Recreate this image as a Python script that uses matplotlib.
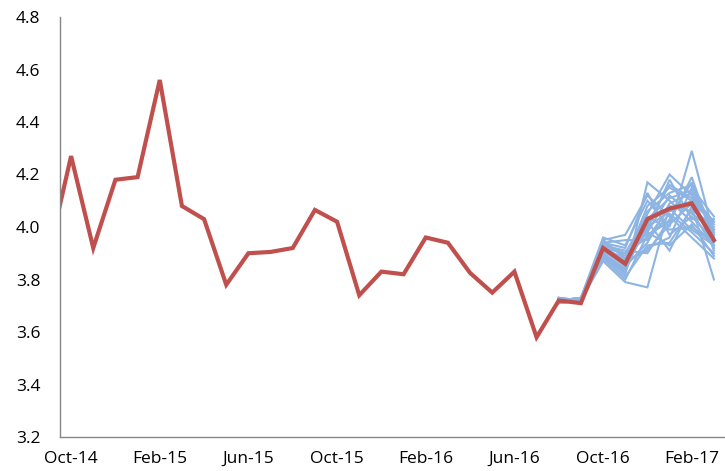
import matplotlib
matplotlib.use("Agg")
import matplotlib.pyplot as plt

# monthly series, Sep-14 .. Mar-17
months = ["Sep-14", "Oct-14", "Nov-14", "Dec-14", "Jan-15", "Feb-15", "Mar-15", "Apr-15",
          "May-15", "Jun-15", "Jul-15", "Aug-15", "Sep-15", "Oct-15", "Nov-15", "Dec-15",
          "Jan-16", "Feb-16", "Mar-16", "Apr-16", "May-16", "Jun-16", "Jul-16", "Aug-16",
          "Sep-16", "Oct-16", "Nov-16", "Dec-16", "Jan-17", "Feb-17", "Mar-17"]
actual = [3.90, 4.27, 3.92, 4.18, 4.19, 4.56, 4.08, 4.03, 3.78, 3.90, 3.905, 3.92,
          4.065, 4.02, 3.74, 3.83, 3.82, 3.96, 3.94, 3.825, 3.75, 3.83, 3.58, 3.72,
          3.71, 3.92, 3.86, 4.03, 4.07, 4.09, 3.95]

# scenario paths, Aug-16 .. Mar-17
scen_start = 23
scenarios = [
    [3.72, 3.72, 3.93, 3.85, 4.00, 4.06, 4.10, 3.96],
    [3.72, 3.73, 3.95, 3.88, 3.98, 4.12, 4.05, 3.99],
    [3.73, 3.71, 3.90, 3.82, 4.17, 4.10, 4.02, 3.93],
    [3.72, 3.72, 3.88, 3.80, 3.97, 4.02, 4.19, 3.95],
    [3.71, 3.72, 3.92, 3.90, 4.05, 4.20, 4.12, 4.02],
    [3.72, 3.73, 3.96, 3.93, 4.10, 4.00, 4.29, 3.97],
    [3.73, 3.72, 3.87, 3.79, 3.77, 4.08, 4.06, 3.92],
    [3.72, 3.71, 3.91, 3.86, 3.92, 3.96, 4.15, 4.04],
    [3.71, 3.72, 3.94, 3.95, 3.95, 4.05, 3.98, 3.90],
    [3.72, 3.73, 3.89, 3.84, 4.02, 3.91, 4.08, 3.80],
    [3.72, 3.72, 3.92, 3.87, 4.08, 4.15, 4.10, 4.01],
    [3.73, 3.72, 3.93, 3.91, 3.90, 4.03, 4.17, 3.98],
    [3.72, 3.71, 3.90, 3.83, 4.04, 3.99, 4.00, 3.94],
    [3.72, 3.72, 3.94, 3.89, 3.99, 4.18, 4.03, 4.03],
    [3.71, 3.73, 3.91, 3.85, 3.94, 4.09, 4.13, 3.91],
    [3.72, 3.72, 3.95, 3.97, 4.12, 4.04, 3.96, 3.88],
    [3.73, 3.72, 3.89, 3.81, 3.93, 3.94, 4.07, 4.00],
    [3.72, 3.71, 3.92, 3.86, 4.06, 4.13, 4.16, 3.96],
    [3.72, 3.73, 3.93, 3.90, 3.96, 4.07, 3.99, 3.93],
    [3.71, 3.72, 3.90, 3.84, 4.01, 4.16, 4.11, 4.02],
    [3.72, 3.72, 3.94, 3.92, 4.13, 3.97, 4.04, 3.95],
    [3.73, 3.71, 3.91, 3.87, 3.91, 4.01, 4.09, 3.97],
    [3.72, 3.72, 3.88, 3.83, 4.03, 4.11, 4.14, 3.99],
    [3.72, 3.73, 3.92, 3.88, 3.98, 3.93, 4.01, 3.89],
]

ticks = [1, 5, 9, 13, 17, 21, 25, 29]
tick_labels = ["Oct-14", "Feb-15", "Jun-15", "Oct-15", "Feb-16", "Jun-16", "Oct-16", "Feb-17"]

plt.rcParams['font.family'] = ['Open Sans', 'DejaVu Sans']

fig = plt.figure(figsize=(7.25, 4.71), dpi=100)
ax = fig.add_axes([60 / 725, 34 / 471, 665 / 725, 420 / 471])

x_all = list(range(len(months)))
for path in scenarios:
    xs = list(range(scen_start, scen_start + len(path)))
    ax.plot(xs, path, color='#8DB4E2', linewidth=1.5, solid_joinstyle='miter')
ax.plot(x_all, actual, color='#C0504D', linewidth=3.0, solid_joinstyle='miter')

ax.set_xlim(0.5, 30.5)
ax.set_ylim(3.2, 4.8)
ax.set_yticks([3.2, 3.4, 3.6, 3.8, 4.0, 4.2, 4.4, 4.6, 4.8])
ax.set_yticklabels(["3.2", "3.4", "3.6", "3.8", "4.0", "4.2", "4.4", "4.6", "4.8"])
ax.set_xticks(ticks)
ax.set_xticklabels(tick_labels)
ax.tick_params(axis='both', length=0, labelsize=12.5, colors='black')
ax.tick_params(axis='y', pad=14)
ax.tick_params(axis='x', pad=10)

for s in ['top', 'right']:
    ax.spines[s].set_visible(False)
for s in ['left', 'bottom']:
    ax.spines[s].set_color('#868686')
    ax.spines[s].set_linewidth(1)

fig.savefig("out.png", dpi=100)
